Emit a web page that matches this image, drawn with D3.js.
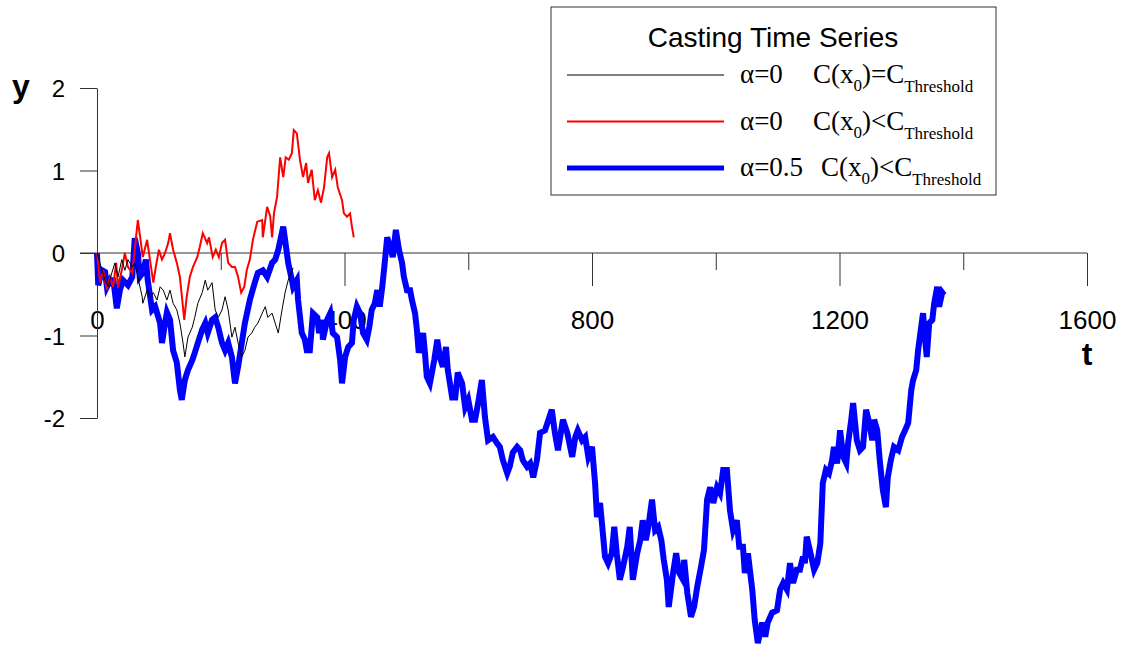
<!DOCTYPE html>
<html lang="en">
<head>
<meta charset="UTF-8">
<title>Casting Time Series</title>
<script src="https://d3js.org/d3.v7.min.js"></script>
<style>
  body { margin: 0; background: #fff; }
  svg { display: block; }
  .tick text { font-family: Arial, "Liberation Sans", sans-serif; fill: #000; }
</style>
</head>
<body>
<script>
// values: [t, y]
const blackSeries = [
  [0,0],[13,-0.33],[18,-0.41],[24,-0.24],[29,-0.12],[34,-0.29],[40,-0.08],[45,-0.21],[50,-0.08],[57,-0.17],
  [61,-0.12],[66,-0.29],[73,-0.53],[74,-0.61],[81,-0.45],[86,-0.53],[91,-0.48],[97,-0.57],[102,-0.41],[107,-0.45],
  [113,-0.57],[118,-0.45],[123,-0.61],[129,-0.69],[134,-0.85],[139,-1.09],[142,-1.26],[147,-1.02],[154,-0.90],[158,-0.78],
  [163,-0.61],[170,-0.48],[175,-0.33],[179,-0.45],[186,-0.36],[191,-0.69],[196,-0.78],[202,-0.69],[207,-0.53],[212,-0.69],
  [218,-1.02],[223,-0.90],[228,-1.09],[234,-1.26],[239,-1.18],[244,-1.02],[250,-0.97],[255,-0.90],[260,-0.85],[267,-0.73],
  [272,-0.65],[276,-0.78],[283,-0.73],[288,-0.85],[293,-0.97],[299,-0.69],[304,-0.48],[309,-0.33],[317,-0.18]
];

const redSeries = [
  [0,0],[5,-0.36],[10,-0.21],[16,-0.45],[21,-0.29],[26,-0.41],[31,-0.12],[34,-0.41],[40,-0.21],[45,0],
  [50,-0.17],[57,-0.24],[61,0.04],[66,0.40],[71,0.12],[74,-0.05],[81,0.16],[84,0],[91,-0.36],[95,-0.17],
  [100,0.04],[105,-0.08],[110,0],[115,0.12],[118,0.24],[123,0.04],[129,-0.12],[134,-0.29],[141,-0.81],[145,-0.53],
  [150,-0.29],[155,-0.17],[162,-0.05],[166,0.07],[171,0.24],[178,0.12],[181,0.19],[187,-0.05],[192,0.04],[197,-0.05],
  [202,0.12],[207,0.16],[212,-0.12],[218,-0.17],[223,-0.17],[228,-0.29],[233,-0.48],[238,-0.41],[242,-0.21],[247,-0.08],
  [252,0.16],[259,0.38],[267,0.40],[268,0.19],[275,0.56],[280,0.44],[283,0.19],[286,0.48],[291,0.68],[296,1.16],
  [301,0.92],[305,1.16],[310,1.13],[315,1.21],[318,1.49],[323,1.45],[328,1.13],[333,0.92],[338,1.09],[341,0.85],
  [347,1.01],[352,0.64],[357,0.76],[362,0.61],[367,0.80],[372,1.16],[375,1.21],[380,0.92],[385,1.01],[389,0.80],
  [396,0.64],[399,0.48],[404,0.44],[409,0.48],[412,0.32],[415,0.19]
];

const blueSeries = [
  [0,0],[2,-0.39],[8,-0.21],[13,-0.23],[16,-0.41],[21,-0.33],[24,-0.36],[26,-0.30],[32,-0.67],[37,-0.45],
  [42,-0.33],[50,-0.39],[57,-0.29],[61,0.18],[66,0],[69,-0.29],[74,-0.24],[79,-0.08],[82,-0.33],[89,-0.69],
  [94,-0.65],[102,-0.85],[105,-1.09],[110,-0.85],[113,-0.72],[118,-0.81],[123,-1.18],[129,-1.33],[134,-1.66],[137,-1.78],
  [142,-1.54],[147,-1.42],[154,-1.30],[158,-1.21],[163,-1.09],[170,-0.93],[175,-0.85],[179,-0.97],[186,-0.81],[191,-0.78],
  [196,-0.90],[202,-1.09],[207,-1.18],[212,-1.09],[218,-1.26],[223,-1.58],[228,-1.38],[234,-1.09],[239,-0.85],[247,-0.57],
  [255,-0.36],[260,-0.24],[268,-0.21],[275,-0.29],[283,-0.12],[288,-0.08],[293,0.04],[301,0.32],[304,0.16],[309,-0.12],
  [315,-0.33],[317,-0.41],[323,-0.33],[325,-0.57],[331,-0.97],[336,-1.05],[339,-1.18],[344,-1.18],[349,-0.73],[356,-0.78],
  [359,-0.97],[364,-0.81],[365,-1.05],[372,-0.81],[377,-0.73],[381,-0.97],[388,-1.02],[393,-1.30],[396,-1.58],[401,-1.26],
  [406,-1.14],[412,-1.09],[415,-0.81],[420,-0.65],[425,-0.73],[430,-0.97],[436,-1.05],[440,-0.90],[444,-0.69],[449,-0.61],
  [453,-0.45],[457,-0.65],[461,-0.41],[465,-0.12],[469,0.19],[474,0.07],[478,-0.05],[483,0.28],[488,0.04],[493,-0.12],
  [496,-0.29],[501,-0.45],[506,-0.45],[509,-0.57],[514,-0.73],[517,-0.93],[520,-1.21],[527,-0.97],[530,-1.21],[533,-1.50],
  [538,-1.58],[545,-1.30],[550,-1.05],[554,-1.26],[559,-1.38],[564,-1.14],[567,-1.42],[574,-1.75],[579,-1.75],[583,-1.45],
  [590,-1.58],[595,-1.87],[600,-1.78],[606,-2.02],[611,-2.02],[616,-1.82],[622,-1.54],[627,-1.99],[632,-2.27],[640,-2.23],
  [646,-2.30],[651,-2.35],[656,-2.51],[663,-2.67],[667,-2.59],[672,-2.42],[679,-2.35],[684,-2.39],[688,-2.51],[695,-2.59],
  [700,-2.55],[705,-2.72],[711,-2.51],[716,-2.18],[724,-2.15],[735,-1.90],[740,-2.18],[745,-2.39],[753,-2.02],[760,-2.18],
  [768,-2.47],[773,-2.23],[777,-2.15],[784,-2.27],[789,-2.23],[794,-2.47],[800,-2.35],[805,-2.79],[808,-3.20],[813,-3.03],
  [816,-3.27],[821,-3.68],[826,-3.76],[832,-3.64],[836,-3.32],[840,-3.64],[845,-3.96],[850,-3.81],[857,-3.56],[861,-3.32],
  [866,-3.96],[873,-3.64],[878,-3.48],[882,-3.24],[887,-3.48],[891,-3.32],[897,-2.99],[902,-3.36],[907,-3.32],[912,-3.48],
  [916,-3.72],[921,-3.96],[924,-4.29],[931,-3.88],[936,-3.64],[941,-3.88],[947,-3.96],[949,-3.72],[954,-4.12],[960,-4.41],
  [965,-4.29],[970,-4.05],[976,-3.81],[981,-3.60],[986,-2.99],[991,-2.84],[996,-3.03],[1002,-2.84],[1007,-2.91],[1012,-2.63],
  [1018,-2.63],[1023,-3.12],[1028,-3.36],[1034,-3.24],[1038,-3.56],[1044,-3.56],[1047,-3.88],[1052,-3.64],[1059,-4.08],[1063,-4.45],
  [1068,-4.73],[1075,-4.48],[1080,-4.65],[1084,-4.48],[1091,-4.36],[1099,-4.33],[1104,-4.08],[1109,-4.00],[1115,-4.08],[1120,-3.76],
  [1125,-4.00],[1131,-3.84],[1136,-3.84],[1141,-3.68],[1144,-3.76],[1147,-3.44],[1152,-3.60],[1159,-3.84],[1164,-3.76],[1169,-3.52],
  [1173,-2.79],[1178,-2.63],[1183,-2.67],[1188,-2.51],[1191,-2.35],[1196,-2.55],[1201,-2.15],[1206,-2.47],[1211,-2.55],[1214,-2.30],
  [1219,-2.02],[1222,-1.82],[1228,-2.27],[1233,-2.39],[1238,-2.35],[1243,-1.90],[1248,-2.06],[1253,-2.27],[1256,-2.02],[1261,-2.15],
  [1265,-2.51],[1270,-2.87],[1275,-3.08],[1278,-2.72],[1283,-2.51],[1288,-2.35],[1295,-2.39],[1301,-2.23],[1306,-2.15],[1311,-2.06],
  [1316,-1.66],[1319,-1.54],[1324,-1.42],[1327,-1.18],[1335,-0.73],[1338,-1.02],[1341,-1.26],[1345,-0.85],[1350,-0.81],[1353,-0.61],
  [1358,-0.41],[1361,-0.65],[1366,-0.48],[1369,-0.51]
];

const xTicks = [0, 200, 400, 600, 800, 1000, 1200, 1400, 1600];
const yTicks = [-2, -1, 0, 1, 2];

const legendItems = [
  { alpha: "α=0",   rel: "=", color: "#000000", width: 1 },
  { alpha: "α=0",   rel: "<", color: "#ff0000", width: 2 },
  { alpha: "α=0.5", rel: "<", color: "#0000ff", width: 5 }
];

const W = 1128, H = 652;
const svg = d3.select("body").append("svg").attr("width", W).attr("height", H);

const x = d3.scaleLinear().domain([0, 1600]).range([97, 1087]);
const y = d3.scaleLinear().domain([-2, 2]).range([418, 88]);

const axisColor = "#333";

// horizontal axis at y = 0
const xAxis = svg.append("g")
    .attr("transform", `translate(0,${y(0)})`)
    .call(d3.axisBottom(x).tickValues(xTicks).tickSize(33).tickPadding(0)
        .tickFormat(d => d % 400 === 0 ? d : ""));
xAxis.select(".domain").remove();
xAxis.selectAll(".tick line")
    .attr("stroke", axisColor)
    .attr("y2", d => d === 0 ? 0 : (d % 400 === 0 ? 33 : 17));
xAxis.selectAll(".tick text")
    .attr("y", 58).attr("dy", "0.71em")
    .style("font-size", "26px");
svg.append("line")
    .attr("x1", x(0) - 17).attr("x2", x(1600))
    .attr("y1", y(0)).attr("y2", y(0))
    .attr("stroke", axisColor);

// vertical axis
const yAxis = svg.append("g")
    .attr("transform", `translate(${x(0)},0)`)
    .call(d3.axisLeft(y).tickValues(yTicks).tickSize(17).tickPadding(15)
        .tickSizeOuter(0).tickFormat(d => d));
yAxis.select(".domain").attr("stroke", axisColor);
yAxis.selectAll(".tick line").attr("stroke", axisColor);
yAxis.selectAll(".tick text").style("font-size", "24px").attr("dy", "0.36em");

svg.append("text")
    .attr("x", 12).attr("y", 97)
    .style("font-family", "Arial, 'Liberation Sans', sans-serif")
    .style("font-weight", "bold").style("font-size", "32px")
    .text("y");
svg.append("text")
    .attr("x", 1087).attr("y", 365).attr("text-anchor", "middle")
    .style("font-family", "Arial, 'Liberation Sans', sans-serif")
    .style("font-weight", "bold").style("font-size", "32px")
    .text("t");

// series
const line = d3.line().x(d => x(d[0])).y(d => y(d[1]));

svg.append("path").datum(blueSeries)
    .attr("fill", "none").attr("stroke", "#0000ff").attr("stroke-width", 6)
    .attr("d", line);
svg.append("path").datum(redSeries)
    .attr("fill", "none").attr("stroke", "#ff0000").attr("stroke-width", 2)
    .attr("d", line);
svg.append("path").datum(blackSeries)
    .attr("fill", "none").attr("stroke", "#000000").attr("stroke-width", 1)
    .attr("d", line);

// legend
const legend = svg.append("g");
legend.append("rect")
    .attr("x", 551).attr("y", 7).attr("width", 445).attr("height", 188)
    .attr("fill", "#fff").attr("stroke", axisColor);
legend.append("text")
    .attr("x", 773).attr("y", 47).attr("text-anchor", "middle")
    .style("font-family", "Arial, 'Liberation Sans', sans-serif")
    .style("font-size", "28px")
    .text("Casting Time Series");

legendItems.forEach((it, i) => {
  const ly = 75 + i * 46.5;
  legend.append("line")
      .attr("x1", 567).attr("x2", 724).attr("y1", ly).attr("y2", ly)
      .attr("stroke", it.color).attr("stroke-width", it.width);
  const serif = "'Times New Roman', 'Liberation Serif', serif";
  legend.append("text")
      .attr("x", 740).attr("y", ly + 8)
      .style("font-family", serif).style("font-size", "27px")
      .text(it.alpha);
  const t = legend.append("text")
      .attr("x", i === 2 ? 821 : 813).attr("y", ly + 8)
      .style("font-family", serif).style("font-size", "27px");
  t.append("tspan").text("C(x");
  t.append("tspan").attr("dy", 8).style("font-size", "17px").text("0");
  t.append("tspan").attr("dy", -8).text(")" + it.rel + "C");
  t.append("tspan").attr("dy", 9).style("font-size", "17px").text("Threshold");
});
</script>
</body>
</html>
